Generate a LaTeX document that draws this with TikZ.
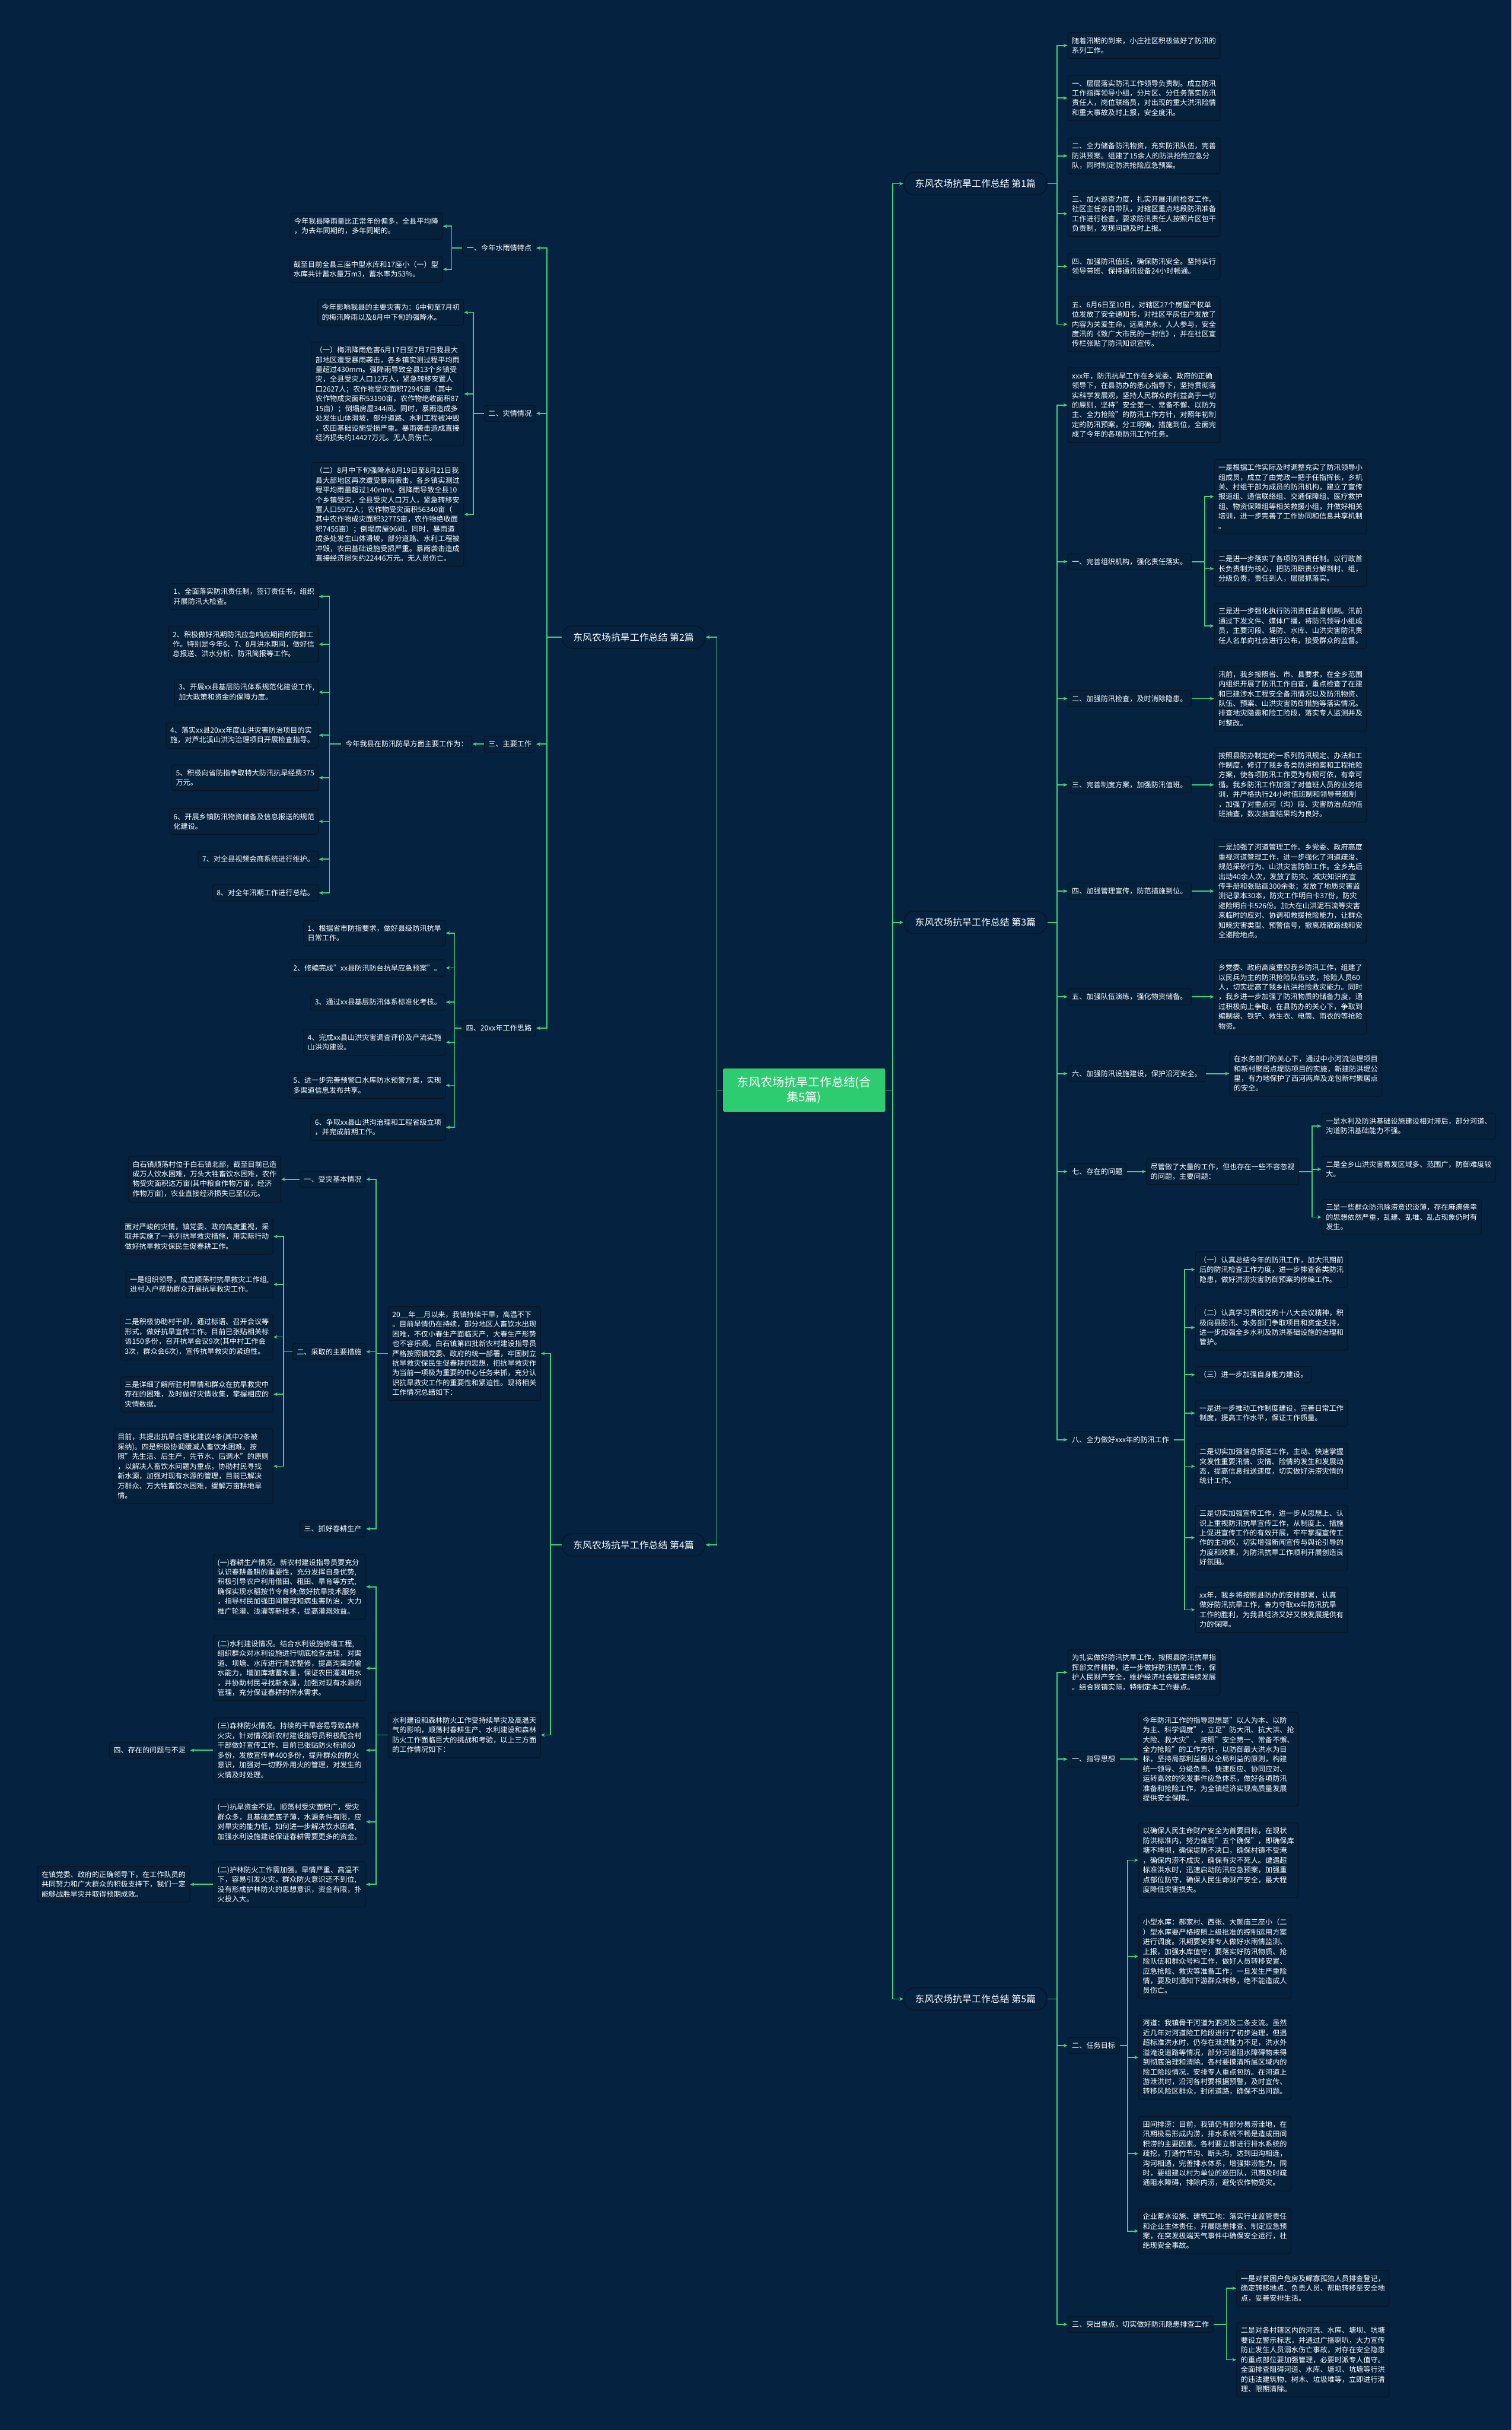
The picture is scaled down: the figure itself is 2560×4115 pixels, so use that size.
\documentclass[tikz,border=0pt]{standalone}
\usepackage{fontspec}
\setmainfont{Noto Sans CJK SC}
\usetikzlibrary{arrows.meta,calc}
\definecolor{bg}{HTML}{052240}
\definecolor{boxfill}{HTML}{05213C}
\definecolor{boxline}{HTML}{0B1524}
\definecolor{lin}{HTML}{3DD47C}
\definecolor{cgreen}{HTML}{2ECC71}
\begin{document}
\begin{tikzpicture}[x=1pt,y=-1pt,
  box/.style={draw=boxline,fill=boxfill,line width=1.2pt,rounded corners=4pt,inner xsep=7pt,inner ysep=8pt,text=white,align=left,font=\fontsize{12.2}{16.5}\selectfont},
  rb/.style={box,anchor=west},
  lb/.style={box,anchor=east},
  pill/.style={draw=boxline,fill=bg,line width=1.5pt,rounded corners=18pt,minimum height=38pt,inner xsep=19pt,inner ysep=0pt,text=white,font=\fontsize{16}{19}\selectfont},
  conn/.style={draw=lin,line width=1.8pt,-{Stealth[length=7pt,width=6pt]}},
]
\fill[bg] (0,0) rectangle (2560,4115);
\useasboundingbox (0,0) rectangle (2560,4115);

% ---------- centre and branches ----------
\node[draw=boxline,fill=cgreen,line width=1.2pt,rounded corners=3pt,minimum width=276pt,minimum height=75pt,align=center,text=white,font=\fontsize{20}{26}\selectfont] (C) at (1362,1846) {东风农场抗旱工作总结(合\\集5篇)};
\node[pill,anchor=west] (B1) at (1530,311) {东风农场抗旱工作总结 第1篇};
\node[pill,anchor=west] (B3) at (1530,1562) {东风农场抗旱工作总结 第3篇};
\node[pill,anchor=west] (B5) at (1530,3385) {东风农场抗旱工作总结 第5篇};
\node[pill,anchor=east] (B2) at (1195,1079) {东风农场抗旱工作总结 第2篇};
\node[pill,anchor=east] (B4) at (1195,2616) {东风农场抗旱工作总结 第4篇};
\coordinate (rt) at (1512,0);
\coordinate (lt) at (1214,0);
\foreach \n in {B1,B3,B5} \draw[conn] (C.east) -- (C.east -| rt) |- (\n.west);
\foreach \n in {B2,B4} \draw[conn] (C.west) -- (C.west -| lt) |- (\n.east);

% ---------- 第1篇 ----------
\coordinate (v1) at (1790,0);
\node[rb] (r1a) at (1808,77) {随着汛期的到来，小庄社区积极做好了防汛的\\系列工作。};
\node[rb] (r1b) at (1808,166) {一、层层落实防汛工作领导负责制。成立防汛\\工作指挥领导小组，分片区、分任务落实防汛\\责任人，岗位联络员，对出现的重大洪汛险情\\和重大事故及时上报，安全度汛。};
\node[rb] (r1c) at (1808,264) {二、全力储备防汛物资，充实防汛队伍，完善\\防洪预案。组建了15余人的防洪抢险应急分\\队，同时制定防洪抢险应急预案。};
\node[rb] (r1d) at (1808,362) {三、加大巡查力度，扎实开展汛前检查工作。\\社区主任亲自带队，对辖区重点地段防汛准备\\工作进行检查，要求防汛责任人按照片区包干\\负责制，发现问题及时上报。};
\node[rb] (r1e) at (1808,451) {四、加强防汛值班，确保防汛安全。坚持实行\\领导带班、保持通讯设备24小时畅通。};
\node[rb] (r1f) at (1808,549) {五、6月6日至10日，对辖区27个房屋产权单\\位发放了安全通知书，对社区平房住户发放了\\内容为关爱生命，远离洪水，人人参与，安全\\度汛的《致广大市民的一封信》，并在社区宣\\传栏张贴了防汛知识宣传。};
\foreach \n in {r1a,r1b,r1c,r1d,r1e,r1f} \draw[conn] (B1.east) -- (B1.east -| v1) |- (\n.west);

% ---------- 第3篇 ----------
\coordinate (v3) at (1790,0);
\node[rb] (r3a) at (1808,686) {xxx年，防汛抗旱工作在乡党委、政府的正确\\领导下，在县防办的悉心指导下，坚持贯彻落\\实科学发展观，坚持人民群众的利益高于一切\\的原则，坚持"安全第一、常备不懈、以防为\\主、全力抢险"的防汛工作方针，对照年初制\\定的防汛预案，分工明确，措施到位，全面完\\成了今年的各项防汛工作任务。};
\node[rb] (r3b) at (1808,951) {一、完善组织机构，强化责任落实。};
\node[rb] (r3c) at (1808,1183) {二、加强防汛检查，及时消除隐患。};
\node[rb] (r3d) at (1808,1329) {三、完善制度方案，加强防汛值班。};
\node[rb] (r3e) at (1808,1509) {四、加强管理宣传，防范措施到位。};
\node[rb] (r3f) at (1808,1688) {五、加强队伍演练，强化物资储备。};
\node[rb] (r3g) at (1808,1818) {六、加强防汛设施建设，保护沿河安全。};
\node[rb] (r3h) at (1808,1984) {七、存在的问题};
\node[rb] (r3i) at (1808,2438) {八、全力做好xxx年的防汛工作};
\foreach \n in {r3a,r3b,r3c,r3d,r3e,r3f,r3g,r3h,r3i} \draw[conn] (B3.east) -- (B3.east -| v3) |- (\n.west);

\coordinate (v3b) at (2040,0);
\node[rb] (r3b1) at (2056,841) {一是根据工作实际及时调整充实了防汛领导小\\组成员，成立了由党政一把手任指挥长，乡机\\关、村组干部为成员的防汛机构，建立了宣传\\报道组、通信联络组、交通保障组、医疗救护\\组、物资保障组等相关救援小组，并做好相关\\培训，进一步完善了工作协同和信息共享机制\\。};
\node[rb] (r3b2) at (2056,963) {二是进一步落实了各项防汛责任制。以行政首\\长负责制为核心，把防汛职责分解到村、组，\\分级负责，责任到人，层层抓落实。};
\node[rb] (r3b3) at (2056,1060) {三是进一步强化执行防汛责任监督机制。汛前\\通过下发文件、媒体广播，将防汛领导小组成\\员，主要河段、堤防、水库、山洪灾害防汛责\\任人名单向社会进行公布，接受群众的监督。};
\foreach \n in {r3b1,r3b2,r3b3} \draw[conn] (r3b.east) -- (r3b.east -| v3b) |- (\n.west);

\node[rb] (r3c1) at (2056,1183) {汛前，我乡按照省、市、县要求，在全乡范围\\内组织开展了防汛工作自查，重点检查了在建\\和已建涉水工程安全备汛情况以及防汛物资、\\队伍、预案、山洪灾害防御措施等落实情况。\\排查地灾隐患和险工险段，落实专人监测并及\\时整改。};
\draw[conn] (r3c.east) -- (r3c1.west);
\node[rb] (r3d1) at (2056,1329) {按照县防办制定的一系列防汛规定、办法和工\\作制度，修订了我乡各类防洪预案和工程抢险\\方案，使各项防汛工作更为有规可依，有章可\\循。我乡防汛工作加强了对值班人员的业务培\\训，并严格执行24小时值班制和领导带班制\\，加强了对重点河（沟）段、灾害防治点的值\\班抽查，数次抽查结果均为良好。};
\draw[conn] (r3d.east) -- (r3d1.west);
\node[rb] (r3e1) at (2056,1509) {一是加强了河道管理工作。乡党委、政府高度\\重视河道管理工作，进一步强化了河道疏浚、\\规范采砂行为、山洪灾害防御工作。全乡先后\\出动40余人次，发放了防灾、减灾知识的宣\\传手册和张贴画300余张；发放了地质灾害监\\测记录本30本，防灾工作明白卡37份，防灾\\避险明白卡526份。加大在山洪泥石流等灾害\\来临时的应对、协调和救援抢险能力，让群众\\知晓灾害类型、预警信号，撤离疏散路线和安\\全避险地点。};
\draw[conn] (r3e.east) -- (r3e1.west);
\node[rb] (r3f1) at (2056,1688) {乡党委、政府高度重视我乡防汛工作，组建了\\以民兵为主的防汛抢险队伍5支，抢险人员60\\人，切实提高了我乡抗洪抢险救灾能力。同时\\，我乡进一步加强了防汛物质的储备力度，通\\过积极向上争取，在县防办的关心下，争取到\\编制袋、铁铲、救生衣、电筒、雨衣的等抢险\\物资。};
\draw[conn] (r3f.east) -- (r3f1.west);
\node[rb] (r3g1) at (2082,1818) {在水务部门的关心下，通过中小河流治理项目\\和新村聚居点堤防项目的实施，新建防洪堤公\\里，有力地保护了西河两岸及龙包新村聚居点\\的安全。};
\draw[conn] (r3g.east) -- (r3g1.west);

\node[rb] (r3h1) at (1941,1984) {尽管做了大量的工作，但也存在一些不容忽视\\的问题，主要问题：};
\draw[conn] (r3h.east) -- (r3h1.west);
\coordinate (v3h) at (2222,0);
\node[rb] (r3h1a) at (2238,1907) {一是水利及防洪基础设施建设相对滞后，部分河道、\\沟道防汛基础能力不强。};
\node[rb] (r3h1b) at (2238,1980) {二是全乡山洪灾害易发区域多、范围广，防御难度较\\大。};
\node[rb] (r3h1c) at (2238,2061) {三是一些群众防汛除涝意识淡薄，存在麻痹侥幸\\的思想依然严重，乱建、乱堆、乱占现象仍时有\\发生。};
\foreach \n in {r3h1a,r3h1b,r3h1c} \draw[conn] (r3h1.east) -- (r3h1.east -| v3h) |- (\n.west);

\coordinate (v3i) at (2006,0);
\node[rb] (r3i1) at (2024,2150) {（一）认真总结今年的防汛工作，加大汛期前\\后的防汛检查工作力度，进一步排查各类防汛\\隐患，做好洪涝灾害防御预案的修编工作。};
\node[rb] (r3i2) at (2024,2248) {（二）认真学习贯彻党的十八大会议精神，积\\极向县防汛、水务部门争取项目和资金支持，\\进一步加强全乡水利及防洪基础设施的治理和\\管护。};
\node[rb] (r3i3) at (2024,2328) {（三）进一步加强自身能力建设。};
\node[rb] (r3i4) at (2024,2393) {一是进一步推动工作制度建设，完善日常工作\\制度，提高工作水平，保证工作质量。};
\node[rb] (r3i5) at (2024,2483) {二是切实加强信息报送工作，主动、快速掌握\\突发性重要汛情、灾情、险情的发生和发展动\\态，提高信息报送速度，切实做好洪涝灾情的\\统计工作。};
\node[rb] (r3i6) at (2024,2604) {三是切实加强宣传工作，进一步从思想上、认\\识上重视防汛抗旱宣传工作，从制度上、措施\\上促进宣传工作的有效开展，牢牢掌握宣传工\\作的主动权，切实增强新闻宣传与舆论引导的\\力度和效果，为防汛抗旱工作顺利开展创造良\\好氛围。};
\node[rb] (r3i7) at (2024,2726) {xx年，我乡将按照县防办的安排部署，认真\\做好防汛抗旱工作，奋力夺取xx年防汛抗旱\\工作的胜利，为我县经济又好又快发展提供有\\力的保障。};
\foreach \n in {r3i1,r3i2,r3i3,r3i4,r3i5,r3i6,r3i7} \draw[conn] (r3i.east) -- (r3i.east -| v3i) |- (\n.west);

% ---------- 第5篇 ----------
\coordinate (v5) at (1790,0);
\node[rb] (r5a) at (1808,2832) {为扎实做好防汛抗旱工作，按照县防汛抗旱指\\挥部文件精神，进一步做好防汛抗旱工作，保\\护人民财产安全，维护经济社会稳定持续发展\\。结合我镇实际，特制定本工作要点。};
\node[rb] (r5b) at (1808,2979) {一、指导思想};
\node[rb] (r5c) at (1808,3464) {二、任务目标};
\node[rb] (r5d) at (1808,3936) {三、突出重点，切实做好防汛隐患排查工作};
\foreach \n in {r5a,r5b,r5c,r5d} \draw[conn] (B5.east) -- (B5.east -| v5) |- (\n.west);

\node[rb] (r5b1) at (1928,2979) {今年防汛工作的指导思想是"以人为本、以防\\为主、科学调度"，立足"防大汛、抗大洪、抢\\大险、救大灾"，按照"安全第一、常备不懈、\\全力抢险"的工作方针，以防御最大洪水为目\\标，坚持局部利益服从全局利益的原则，构建\\统一领导、分级负责、快速反应、协同应对、\\运转高效的突发事件应急体系，做好各项防汛\\准备和抢险工作，为全镇经济实现高质量发展\\提供安全保障。};
\draw[conn] (r5b.east) -- (r5b1.west);

\coordinate (v5c) at (1910,0);
\node[rb] (r5c1) at (1928,3150) {以确保人民生命财产安全为首要目标，在现状\\防洪标准内，努力做到"五个确保"，即确保库\\塘不垮坝，确保堤防不决口，确保村镇不受淹\\，确保内涝不成灾，确保有灾不死人。遭遇超\\标准洪水时，迅速启动防汛应急预案，加强重\\点部位防守，确保人民生命财产安全，最大程\\度降低灾害损失。};
\node[rb] (r5c2) at (1928,3313) {小型水库：郝家村、西张、大颜庙三座小（二\\）型水库要严格按照上级批准的控制运用方案\\进行调度。汛期要安排专人做好水雨情监测、\\上报，加强水库值守；要落实好防汛物质、抢\\险队伍和群众号料工作，做好人员转移安置、\\应急抢险、救灾等准备工作；一旦发生严重险\\情，要及时通知下游群众转移，绝不能造成人\\员伤亡。};
\node[rb] (r5c3) at (1928,3484) {河道：我镇骨干河道为泗河及二条支流。虽然\\近几年对河道险工险段进行了初步治理，但遇\\超标准洪水时，仍存在泄洪能力不足，洪水外\\溢淹没道路等情况，部分河道阻水障碍物未得\\到彻底治理和清除。各村要摸清所属区域内的\\险工险段情况，安排专人重点包防。在河道上\\游泄洪时，沿河各村要根据预警，及时宣传、\\转移风险区群众，封闭道路，确保不出问题。};
\node[rb] (r5c4) at (1928,3647) {田间排涝：目前，我镇仍有部分易涝洼地，在\\汛期极易形成内涝，排水系统不畅是造成田间\\积涝的主要因素。各村要立即进行排水系统的\\疏挖，打通竹节沟、断头沟，达到田沟相连，\\沟河相通，完善排水体系，增强排涝能力。同\\时，要组建以村为单位的巡田队，汛期及时疏\\通阻水障碍，排除内涝，避免农作物受灾。};
\node[rb] (r5c5) at (1928,3778) {企业蓄水设施、建筑工地：落实行业监管责任\\和企业主体责任，开展隐患排查、制定应急预\\案，在突发极端天气事件中确保安全运行，杜\\绝现安全事故。};
\foreach \n in {r5c1,r5c2,r5c3,r5c4,r5c5} \draw[conn] (r5c.east) -- (r5c.east -| v5c) |- (\n.west);

\coordinate (v5d) at (2077,0);
\node[rb] (r5d1) at (2094,3875) {一是对贫困户危房及鳏寡孤独人员排查登记，\\确定转移地点、负责人员、帮助转移至安全地\\点，妥善安排生活。};
\node[rb] (r5d2) at (2094,3996) {二是对各村辖区内的河流、水库、塘坝、坑塘\\要设立警示标志，并通过广播喇叭，大力宣传\\防止发生人员溺水伤亡事故，对存在安全隐患\\的重点部位要加强管理，必要时派专人值守。\\全面排查阻碍河道、水库、塘坝、坑塘等行洪\\的违法建筑物、树木、垃圾堆等，立即进行清\\理、限期清除。};
\foreach \n in {r5d1,r5d2} \draw[conn] (r5d.east) -- (r5d.east -| v5d) |- (\n.west);

% ---------- 第2篇 ----------
\coordinate (v2) at (926,0);
\node[lb] (l2a) at (908,420) {一、今年水雨情特点};
\node[lb] (l2b) at (908,700) {二、灾情情况};
\node[lb] (l2c) at (908,1260) {三、主要工作};
\node[lb] (l2d) at (908,1741) {四、20xx年工作思路};
\foreach \n in {l2a,l2b,l2c,l2d} \draw[conn] (B2.west) -- (B2.west -| v2) |- (\n.east);

\coordinate (v2a) at (765,0);
\node[lb] (l2a1) at (750,383) {今年我县降雨量比正常年份偏多，全县平均降\\，为去年同期的，多年同期的。};
\node[lb] (l2a2) at (750,456) {截至目前全县三座中型水库和17座小（一）型\\水库共计蓄水量万m3，蓄水率为53\%。};
\foreach \n in {l2a1,l2a2} \draw[conn] (l2a.west) -- (l2a.west -| v2a) |- (\n.east);

\coordinate (v2b) at (802,0);
\node[lb] (l2b1) at (786,529) {今年影响我县的主要灾害为：6中旬至7月初\\的梅汛降雨以及8月中下旬的强降水。};
\node[lb] (l2b2) at (786,667) {（一）梅汛降雨危害6月17日至7月7日我县大\\部地区遭受暴雨袭击，各乡镇实测过程平均雨\\量超过430mm。强降雨导致全县13个乡镇受\\灾，全县受灾人口12万人，紧急转移安置人\\口2627人；农作物受灾面积72945亩（其中\\农作物成灾面积53190亩，农作物绝收面积87\\15亩）；倒塌房屋344间。同时，暴雨造成多\\处发生山体滑坡，部分道路、水利工程被冲毁\\，农田基础设施受损严重。暴雨袭击造成直接\\经济损失约14427万元。无人员伤亡。};
\node[lb] (l2b3) at (786,871) {（二）8月中下旬强降水8月19日至8月21日我\\县大部地区再次遭受暴雨袭击，各乡镇实测过\\程平均雨量超过140mm。强降雨导致全县10\\个乡镇受灾，全县受灾人口万人，紧急转移安\\置人口5972人；农作物受灾面积56340亩（\\其中农作物成灾面积32775亩，农作物绝收面\\积7455亩）；倒塌房屋96间。同时，暴雨造\\成多处发生山体滑坡，部分道路、水利工程被\\冲毁，农田基础设施受损严重。暴雨袭击造成\\直接经济损失约22446万元。无人员伤亡。};
\foreach \n in {l2b1,l2b2,l2b3} \draw[conn] (l2b.west) -- (l2b.west -| v2b) |- (\n.east);

\node[lb] (l2c0) at (800,1260) {今年我县在防汛防旱方面主要工作为：};
\draw[conn] (l2c.west) -- (l2c0.east);
\coordinate (v2c) at (558,0);
\node[lb] (l2c1) at (540,1010) {1、全面落实防汛责任制，签订责任书，组织\\开展防汛大检查。};
\node[lb] (l2c2) at (540,1091) {2、积极做好汛期防汛应急响应期间的防御工\\作。特别是今年6、7、8月洪水期间，做好信\\息报送、洪水分析、防汛简报等工作。};
\node[lb] (l2c3) at (540,1172) {3、开展xx县基层防汛体系规范化建设工作,\\加大政策和资金的保障力度。};
\node[lb] (l2c4) at (540,1245) {4、落实xx县20xx年度山洪灾害防治项目的实\\施，对芦北溪山洪沟治理项目开展检查指导。};
\node[lb] (l2c5) at (540,1317) {5、积极向省防指争取特大防汛抗旱经费375\\万元。};
\node[lb] (l2c6) at (540,1391) {6、开展乡镇防汛物资储备及信息报送的规范\\化建设。};
\node[lb] (l2c7) at (540,1455) {7、对全县视频会商系统进行维护。};
\node[lb] (l2c8) at (540,1512) {8、对全年汛期工作进行总结。};
\foreach \n in {l2c1,l2c2,l2c3,l2c4,l2c5,l2c6,l2c7,l2c8} \draw[conn] (l2c0.west) -- (l2c0.west -| v2c) |- (\n.east);

\coordinate (v2d) at (770,0);
\node[lb] (l2d1) at (755,1580) {1、根据省市防指要求，做好县级防汛抗旱\\日常工作。};
\node[lb] (l2d2) at (755,1639) {2、修编完成"xx县防汛防台抗旱应急预案"。};
\node[lb] (l2d3) at (755,1697) {3、通过xx县基层防汛体系标准化考核。};
\node[lb] (l2d4) at (755,1765) {4、完成xx县山洪灾害调查评价及产流实施\\山洪沟建设。};
\node[lb] (l2d5) at (755,1838) {5、进一步完善预警口水库防水预警方案，实现\\多渠道信息发布共享。};
\node[lb] (l2d6) at (755,1909) {6、争取xx县山洪沟治理和工程省级立项\\，并完成前期工作。};
\foreach \n in {l2d1,l2d2,l2d3,l2d4,l2d5,l2d6} \draw[conn] (l2d.west) -- (l2d.west -| v2d) |- (\n.east);

% ---------- 第4篇 ----------
\coordinate (v4) at (932,0);
\node[lb] (l4a) at (916,2292) {20\_\_年\_\_月以来，我镇持续干旱，高温不下\\。目前旱情仍在持续，部分地区人畜饮水出现\\困难，不仅小春生产面临灭产，大春生产形势\\也不容乐观。白石镇第四批新农村建设指导员\\严格按照镇党委、政府的统一部署，牢固树立\\抗旱救灾保民生促春耕的思想，把抗旱救灾作\\为当前一项极为重要的中心任务来抓，充分认\\识抗旱救灾工作的重要性和紧迫性。现将相关\\工作情况总结如下：};
\node[lb] (l4b) at (916,2938) {水利建设和森林防火工作受持续旱灾及高温天\\气的影响，顺荡村春耕生产、水利建设和森林\\防火工作面临巨大的挑战和考验，以上三方面\\的工作情况如下：};
\foreach \n in {l4a,l4b} \draw[conn] (B4.west) -- (B4.west -| v4) |- (\n.east);

\coordinate (v4a) at (637,0);
\node[lb] (l4a1) at (620,1997) {一、受灾基本情况};
\node[lb] (l4a2) at (620,2289) {二、采取的主要措施};
\node[lb] (l4a3) at (620,2589) {三、抓好春耕生产};
\foreach \n in {l4a1,l4a2,l4a3} \draw[conn] (l4a.west) -- (l4a.west -| v4a) |- (\n.east);

\node[lb] (l4a1x) at (476,1997) {白石镇顺荡村位于白石镇北部，截至目前已造\\成万人饮水困难，万头大牲畜饮水困难，农作\\物受灾面积达万亩(其中粮食作物万亩，经济\\作物万亩)，农业直接经济损失已至亿元。};
\draw[conn] (l4a1.west) -- (l4a1x.east);

\coordinate (v4b) at (480,0);
\node[lb] (l4a2a) at (463,2094) {面对严峻的灾情，镇党委、政府高度重视，采\\取并实施了一系列抗旱救灾措施，用实际行动\\做好抗旱救灾保民生促春耕工作。};
\node[lb] (l4a2b) at (463,2175) {一是组织领导，成立顺荡村抗旱救灾工作组,\\进村入户帮助群众开展抗旱救灾工作。};
\node[lb] (l4a2c) at (463,2264) {二是积极协助村干部，通过标语、召开会议等\\形式，做好抗旱宣传工作。目前已张贴相关标\\语150多份，召开抗旱会议9次(其中村工作会\\3次，群众会6次)，宣传抗旱救灾的紧迫性。};
\node[lb] (l4a2d) at (463,2361) {三是详细了解所驻村旱情和群众在抗旱救灾中\\存在的困难，及时做好灾情收集，掌握相应的\\灾情数据。};
\node[lb] (l4a2e) at (463,2483) {目前，共提出抗旱合理化建议4条(其中2条被\\采纳)。四是积极协调缓减人畜饮水困难。按\\照"先生活、后生产，先节水、后调水"的原则\\，以解决人畜饮水问题为重点，协助村民寻找\\新水源，加强对现有水源的管理，目前已解决\\万群众、万大牲畜饮水困难，缓解万亩耕地旱\\情。};
\foreach \n in {l4a2a,l4a2b,l4a2c,l4a2d,l4a2e} \draw[conn] (l4a2.west) -- (l4a2.west -| v4b) |- (\n.east);

\coordinate (v4c) at (637,0);
\node[lb] (l4b1) at (620,2687) {(一)春耕生产情况。新农村建设指导员要充分\\认识春耕备耕的重要性，充分发挥自身优势,\\积极引导农户利用借田、租田、旱育等方式,\\确保实现水稻按节令育秧;做好抗旱技术服务\\，指导村民加强田间管理和病虫害防治，大力\\推广轮灌、浅灌等新技术，提高灌溉效益。};
\node[lb] (l4b2) at (620,2825) {(二)水利建设情况。结合水利设施修缮工程,\\组织群众对水利设施进行彻底检查治理，对渠\\道、坝塘、水库进行清淤整修，提高沟渠的输\\水能力，增加库塘蓄水量，保证农田灌溉用水\\，并协助村民寻找新水源，加强对现有水源的\\管理，充分保证春耕的供水需求。};
\node[lb] (l4b3) at (620,2964) {(三)森林防火情况。持续的干旱容易导致森林\\火灾，针对情况新农村建设指导员积极配合村\\干部做好宣传工作，目前已张贴防火标语60\\多份，发放宣传单400多份，提升群众的防火\\意识，加强对一切野外用火的管理，对发生的\\火情及时处理。};
\node[lb] (l4b4) at (620,3085) {(一)抗旱资金不足。顺荡村受灾面积广，受灾\\群众多，且基础差底子薄，水源条件有限，应\\对旱灾的能力低，如何进一步解决饮水困难,\\加强水利设施建设保证春耕需要更多的资金。};
\node[lb] (l4b5) at (620,3191) {(二)护林防火工作需加强。旱情严重、高温不\\下，容易引发火灾，群众防火意识还不到位,\\没有形成护林防火的思想意识，资金有限，扑\\火投入大。};
\foreach \n in {l4b1,l4b2,l4b3,l4b4,l4b5} \draw[conn] (l4b.west) -- (l4b.west -| v4c) |- (\n.east);

\node[lb] (l4b3x) at (322,2964) {四、存在的问题与不足};
\draw[conn] (l4b3.west) -- (l4b3x.east);
\node[lb] (l4b5x) at (322,3191) {在镇党委、政府的正确领导下，在工作队员的\\共同努力和广大群众的积极支持下，我们一定\\能够战胜旱灾并取得预期成效。};
\draw[conn] (l4b5.west) -- (l4b5x.east);
\end{tikzpicture}
\end{document}
